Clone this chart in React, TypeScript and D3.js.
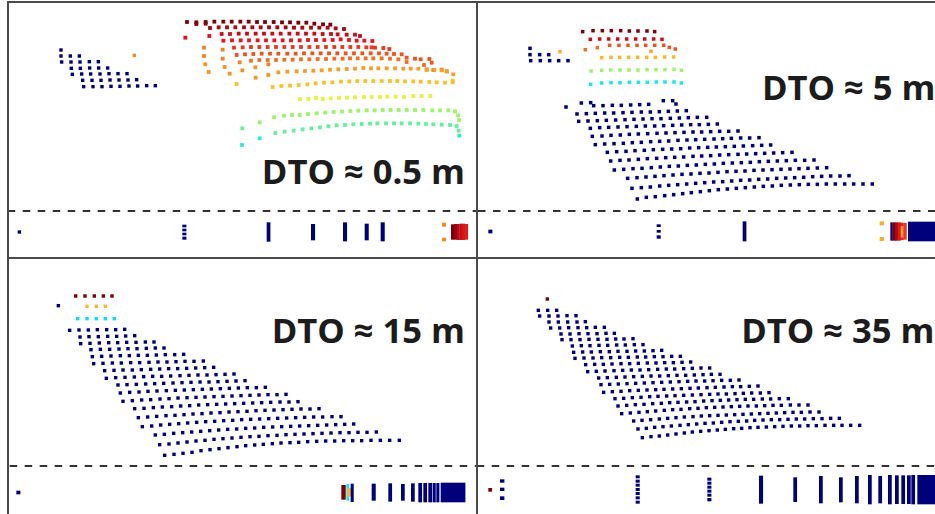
import React from 'react';
import { scaleLinear } from 'd3';

const width = 935;
const height = 514;

// scan rows: [jet value, xs, ys], in scene units (1/3 px)
type Row = [number, number[], number[]];
type Bar = [number, number, number, number, number];

const nearBlue: Row[] = [
  [0, [183], [150]],
  [0, [183, 211, 238], [168, 168, 168]],
  [0, [185, 213, 240, 268, 295], [186, 186, 186, 185, 185]],
  [0, [214, 241, 269, 296, 323], [205, 205, 204, 204, 204]],
  [0, [217, 245, 272, 300, 327, 354, 381], [223, 222, 222, 222, 221, 221, 221]],
  [0, [248, 276, 303, 330, 357, 384, 410], [241, 241, 241, 240, 240, 240, 239]],
  [0, [251, 279, 306, 333, 360, 387, 413, 440, 466], [260, 260, 260, 259, 259, 258, 258, 257, 257]],
  [0.76, [403], [166]],
];

const nearWarm: Row[] = [
  [1, [51, 79, 107, 133, 160, 185, 211, 236, 261, 285, 311, 336, 360, 385, 409, 433, 459, 481], [36, 37, 36, 35, 35, 35, 35, 35, 36, 36, 36, 37, 37, 38, 38, 41, 43, 44]],
  [0.98, [79, 107], [42, 41]],
  [0.96, [120, 146, 171, 196, 222, 247, 272, 297, 322, 347, 372, 397, 423, 448, 473, 497, 522], [54, 52, 52, 52, 52, 52, 52, 52, 52, 52, 53, 53, 53, 53, 53, 55, 57]],
  [0.92, [155, 180, 206, 231, 257, 282, 307, 332, 358, 383, 408, 433, 458, 483, 503, 530, 555, 570], [72, 72, 71, 71, 71, 71, 71, 71, 71, 71, 71, 71, 72, 72, 73, 74, 74, 78]],
  [0.89, [160, 186, 212, 237, 263, 288, 313, 338, 363, 389, 414, 438, 463, 488, 512, 537, 560, 583, 607], [92, 91, 91, 91, 91, 91, 91, 91, 91, 91, 90, 90, 90, 90, 88, 90, 92, 92, 93]],
  [0.9, [46, 118], [83, 78]],
  [0.85, [192, 218, 243, 268, 293, 318, 343, 368, 393, 418, 443, 468, 493, 517, 541, 565, 589, 605, 615, 640, 658], [113, 112, 111, 111, 111, 111, 111, 111, 111, 111, 111, 111, 111, 111, 111, 111, 112, 112, 113, 114, 117]],
  [0.82, [200, 225, 250, 275, 300, 325, 352, 377, 402, 427, 452, 477, 502, 527, 552, 577, 602, 627, 650, 672, 695, 710, 735, 752, 778, 785], [135, 133, 132, 131, 131, 131, 131, 131, 130, 130, 130, 130, 130, 130, 130, 130, 130, 130, 131, 132, 133, 143, 146, 148, 147, 158]],
  [0.79, [243, 268, 293, 318, 343, 368, 393, 418, 443, 468, 493, 518, 540, 563, 587, 610, 635, 660, 685, 710, 762, 770, 790, 815, 830], [152, 150, 150, 150, 149, 149, 148, 148, 147, 147, 146, 146, 145, 145, 145, 145, 145, 146, 148, 156, 165, 179, 180, 179, 184]],
  [0.77, [102, 102, 158, 158, 209, 295], [113, 138, 119, 146, 157, 163]],
  [0.75, [106, 116, 164, 179, 217, 256, 257, 295], [163, 186, 171, 191, 181, 172, 203, 195]],
  [0.74, [325, 352, 380, 405, 430, 455, 480, 505, 530, 555, 580, 603, 625, 650, 675, 700, 722, 745, 770, 793, 815, 830, 850], [187, 185, 184, 183, 182, 181, 179, 178, 177, 176, 174, 175, 175, 175, 175, 176, 176, 176, 178, 180, 181, 184, 193]],
  [0.7, [200, 848, 308, 334, 360, 386, 412, 437, 462, 487, 513, 538, 562, 586, 610, 635, 660, 682, 705, 730, 752, 778, 800, 825, 848], [222, 212, 231, 228, 227, 225, 223, 220, 218, 217, 215, 214, 213, 213, 213, 213, 213, 213, 214, 214, 215, 216, 217, 218, 217]],
  [0.62, [390, 415, 438, 458, 482, 507, 531, 555, 582, 605, 630, 652, 677, 702, 730, 755, 781], [267, 267, 264, 267, 265, 264, 263, 262, 261, 261, 261, 260, 260, 261, 258, 258, 258]],
  [0.53, [269, 312, 342, 366, 389, 414, 440, 466, 491, 516, 541, 565, 590, 614, 638, 662, 686, 710, 735, 760, 787, 810, 835, 855, 864, 867], [337, 322, 317, 315, 315, 312, 310, 308, 306, 305, 303, 302, 301, 301, 300, 300, 300, 300, 300, 300, 301, 301, 301, 304, 316, 330]],
  [0.46, [217, 316, 344, 371, 398, 424, 450, 475, 500, 525, 550, 575, 600, 622, 648, 672, 695, 720, 745, 768, 790, 815, 840, 860, 866], [355, 369, 365, 362, 358, 355, 352, 349, 346, 345, 343, 342, 341, 340, 340, 340, 340, 340, 341, 342, 343, 344, 345, 348, 362]],
  [0.39, [269, 216, 868], [385, 405, 377]],
];

const fiveMetre: Row[] = [
  [1, [314, 345, 373, 400, 428, 454, 480, 507, 530], [95, 92, 92, 92, 92, 93, 93, 93, 95]],
  [0.92, [337, 365, 392, 419, 446, 473, 500, 527, 552], [118, 117, 117, 117, 117, 117, 117, 117, 118]],
  [0.82, [395, 423, 450, 477, 503, 530, 557, 574, 592], [136, 136, 136, 136, 136, 136, 136, 142, 147]],
  [0.79, [322, 358], [149, 143]],
  [0.73, [519], [154]],
  [0.71, [371, 399, 425, 452, 479, 506, 532, 560, 587], [173, 172, 172, 172, 172, 172, 172, 171, 171]],
  [0.53, [339, 371, 398, 426, 453, 480, 507, 534, 561, 588, 610], [213, 211, 210, 210, 210, 210, 209, 209, 209, 208, 211]],
  [0.36, [338, 371, 399, 426, 454, 481, 508, 535, 561, 588, 610], [253, 249, 248, 248, 247, 247, 247, 246, 246, 246, 249]],
  [0.72, [246], [155]],
  [0, [156, 156, 185, 212, 158, 187, 215, 242, 270], [145, 164, 164, 164, 182, 182, 182, 182, 182]],
  [0, [264, 310, 338, 556, 584, 594], [321, 309, 308, 302, 302, 312]],
  [0, [347, 375, 403, 430, 458, 485, 512], [317, 317, 316, 316, 315, 314, 313]],
  [0, [297, 325, 352, 380, 407, 435, 462, 490, 517, 544, 571, 598, 625], [342, 341, 340, 339, 339, 338, 337, 336, 336, 335, 334, 333, 332]],
  [0, [302, 330, 358, 385, 413, 441, 468, 495, 522, 549, 577, 604, 631, 658, 686], [364, 363, 362, 361, 360, 359, 358, 357, 356, 356, 355, 354, 353, 352, 352]],
  [0, [337, 365, 392, 420, 447, 475, 502, 530, 557, 584, 611, 638, 664, 691, 718], [385, 383, 382, 381, 380, 379, 378, 378, 377, 376, 375, 374, 374, 373, 372]],
  [0, [343, 372, 399, 427, 454, 481, 509, 537, 564, 591, 618, 645, 671, 698, 725, 752, 780], [409, 408, 406, 405, 403, 402, 401, 400, 399, 398, 397, 396, 396, 395, 394, 394, 393]],
  [0, [352, 380, 408, 436, 463, 490, 518, 545, 572, 600, 627, 653, 680, 708, 734, 760, 788, 815, 843], [434, 432, 431, 430, 428, 427, 425, 424, 423, 421, 420, 419, 418, 417, 416, 415, 414, 414, 413]],
  [0, [388, 416, 444, 471, 499, 526, 554, 581, 608, 635, 662, 689, 715, 742, 769, 796, 824, 851, 878], [457, 455, 454, 452, 451, 449, 448, 447, 446, 444, 443, 442, 441, 440, 439, 438, 437, 436, 435]],
  [0, [398, 426, 453, 481, 508, 536, 563, 590, 617, 645, 671, 698, 725, 752, 780, 806, 833, 860, 887, 914, 942], [483, 481, 480, 478, 476, 475, 473, 472, 471, 469, 468, 467, 465, 464, 463, 462, 461, 460, 459, 458, 457]],
  [0, [409, 437, 465, 492, 520, 547, 574, 601, 628, 655, 682, 709, 736, 763, 790, 817, 844, 871, 898, 925, 952, 980, 1008], [510, 508, 506, 505, 503, 501, 499, 498, 496, 495, 493, 492, 490, 489, 488, 487, 485, 484, 483, 482, 481, 481, 480]],
  [0, [449, 477, 504, 531, 558, 585, 612, 639, 666, 693, 720, 747, 774, 801, 828, 855, 882, 909, 936, 963, 990, 1018, 1046], [535, 533, 531, 529, 527, 525, 523, 522, 520, 519, 517, 515, 514, 513, 511, 510, 509, 508, 507, 506, 505, 504, 503]],
  [0, [462, 490, 517, 545, 572, 599, 626, 653, 680, 707, 734, 761, 788, 815, 842, 869, 896, 923, 950, 977, 1004, 1031, 1058, 1086, 1113], [565, 563, 561, 558, 556, 554, 552, 550, 548, 546, 545, 543, 541, 540, 538, 537, 535, 534, 533, 532, 530, 529, 528, 528, 527]],
  [0, [478, 505, 532, 560, 587, 614, 640, 667, 694, 721, 748, 775, 802, 829, 856, 883, 910, 937, 964, 991, 1018, 1045, 1072, 1100, 1127, 1155, 1183], [597, 592, 590, 587, 584, 581, 578, 575, 572, 569, 567, 565, 563, 561, 559, 558, 556, 555, 554, 553, 553, 552, 552, 552, 552, 552, 552]],
];

const fifteenMetre: Row[] = [
  [1, [227, 255, 283, 310, 336], [114, 114, 114, 114, 114]],
  [0.71, [261, 289, 316], [145, 145, 145]],
  [0.34, [233, 261, 289, 316, 343], [182, 182, 182, 182, 182]],
  [0, [175], [143]],
  [0, [209, 237, 265, 292, 320, 347, 374], [217, 216, 216, 215, 215, 215, 214]],
  [0, [240, 267, 295, 323, 350, 377, 404], [237, 236, 236, 235, 235, 234, 233]],
  [0, [242, 270, 298, 326, 353, 380, 408, 436, 462], [257, 256, 255, 254, 254, 253, 253, 252, 252]],
  [0, [273, 301, 329, 357, 384, 411, 439, 466, 492], [275, 274, 274, 273, 272, 272, 271, 270, 270]],
  [0, [277, 305, 333, 361, 388, 415, 442, 469, 496, 524, 551], [296, 295, 294, 293, 293, 292, 292, 291, 290, 290, 289]],
  [0, [281, 309, 337, 364, 392, 419, 447, 474, 501, 528, 555, 582, 610], [317, 316, 315, 315, 314, 314, 313, 312, 312, 311, 310, 310, 309]],
  [0, [314, 342, 369, 397, 424, 452, 479, 506, 533, 560, 587, 614, 641], [338, 337, 336, 336, 335, 334, 333, 332, 332, 331, 330, 329, 328]],
  [0, [319, 347, 375, 403, 431, 458, 485, 512, 540, 567, 594, 621, 648, 675, 702], [361, 359, 358, 357, 356, 355, 355, 354, 353, 352, 351, 351, 350, 349, 348]],
  [0, [354, 381, 409, 437, 464, 491, 519, 546, 573, 600, 627, 654, 681, 708, 735], [381, 380, 379, 378, 377, 376, 375, 374, 373, 372, 372, 371, 370, 369, 368]],
  [0, [361, 389, 417, 444, 471, 499, 526, 553, 580, 607, 634, 661, 688, 715, 742, 769, 796], [405, 403, 402, 400, 399, 398, 397, 396, 395, 394, 393, 392, 391, 390, 389, 389, 388]],
  [0, [369, 397, 425, 452, 480, 507, 534, 561, 588, 615, 642, 669, 696, 723, 750, 777, 804, 831, 858], [430, 428, 426, 425, 423, 422, 420, 419, 418, 417, 416, 415, 414, 413, 412, 411, 410, 410, 409]],
  [0, [404, 432, 460, 487, 515, 542, 569, 596, 623, 650, 677, 704, 731, 758, 785, 812, 840, 867, 894], [452, 451, 449, 447, 446, 444, 443, 441, 440, 439, 438, 437, 436, 435, 434, 433, 432, 432, 431]],
  [0, [415, 443, 470, 498, 525, 552, 579, 606, 633, 660, 687, 714, 741, 768, 795, 822, 849, 876, 903, 930, 957], [479, 477, 475, 473, 472, 470, 468, 467, 465, 464, 462, 461, 460, 458, 457, 456, 455, 454, 453, 453, 452]],
  [0, [427, 455, 482, 509, 536, 563, 590, 617, 644, 671, 698, 725, 752, 779, 806, 833, 860, 887, 914, 941, 968, 996, 1023], [506, 504, 501, 499, 497, 495, 493, 491, 490, 488, 487, 485, 484, 483, 482, 481, 480, 479, 478, 477, 477, 476, 476]],
  [0, [466, 493, 521, 548, 575, 602, 629, 656, 683, 710, 737, 764, 791, 818, 845, 872, 899, 926, 953, 980, 1007, 1034, 1061], [531, 529, 526, 524, 522, 520, 518, 516, 514, 513, 511, 510, 508, 507, 506, 505, 504, 503, 502, 501, 500, 499, 498]],
  [0, [479, 507, 534, 561, 588, 615, 642, 669, 696, 723, 750, 777, 804, 831, 858, 885, 912, 939, 966, 993, 1020, 1047, 1074, 1101, 1129], [560, 558, 555, 552, 549, 547, 544, 542, 540, 538, 536, 535, 533, 532, 530, 529, 528, 527, 526, 525, 524, 524, 523, 523, 522]],
  [0, [494, 522, 549, 576, 603, 630, 657, 684, 711, 737, 764, 790, 817, 843, 870, 896, 923, 950, 977, 1004, 1031, 1058, 1085, 1113, 1141, 1169, 1198], [592, 589, 586, 583, 578, 575, 572, 569, 566, 563, 561, 559, 557, 555, 554, 553, 551, 550, 549, 549, 548, 548, 548, 547, 547, 547, 547]],
];

const thirtyFiveMetre: Row[] = [
  [1, [208], [123]],
  [0, [181, 209, 236], [157, 157, 157]],
  [0, [185, 213, 240, 267, 294], [174, 174, 174, 173, 173]],
  [0, [213, 241, 269, 297, 322], [192, 192, 192, 192, 191]],
  [0, [218, 245, 272, 300, 326, 352, 379], [210, 210, 209, 209, 209, 208, 208]],
  [0, [249, 276, 303, 330, 357, 384, 409], [228, 228, 227, 227, 227, 226, 226]],
  [0, [252, 279, 306, 333, 360, 387, 413, 438, 465], [245, 245, 245, 244, 244, 244, 243, 243, 242]],
  [0, [283, 310, 336, 363, 389, 416, 442, 469, 495], [264, 263, 263, 262, 262, 261, 261, 260, 260]],
  [0, [287, 314, 340, 367, 394, 420, 447, 473, 499, 525, 551], [283, 282, 282, 281, 281, 280, 280, 279, 279, 278, 277]],
  [0, [291, 318, 345, 371, 398, 425, 451, 478, 503, 529, 555, 581, 607], [301, 300, 300, 299, 299, 298, 298, 297, 297, 296, 296, 295, 295]],
  [0, [323, 350, 376, 402, 429, 455, 481, 508, 534, 560, 586, 612, 638], [320, 319, 319, 318, 317, 317, 316, 315, 315, 314, 314, 313, 312]],
  [0, [329, 355, 381, 408, 434, 460, 486, 512, 539, 565, 590, 617, 643, 669, 695], [341, 340, 339, 338, 337, 336, 336, 335, 334, 333, 333, 332, 331, 330, 330]],
  [0, [362, 388, 415, 441, 467, 493, 519, 545, 571, 597, 623, 649, 675, 700, 726], [360, 359, 358, 357, 356, 355, 354, 354, 353, 352, 352, 351, 350, 349, 349]],
  [0, [369, 395, 421, 447, 473, 499, 525, 551, 577, 603, 629, 654, 680, 705, 731, 757, 783], [380, 379, 378, 377, 376, 375, 374, 373, 372, 371, 370, 369, 369, 368, 367, 367, 366]],
  [0, [377, 403, 429, 455, 481, 507, 533, 558, 584, 610, 636, 661, 687, 712, 738, 763, 788, 814, 840], [403, 401, 400, 398, 397, 396, 395, 394, 393, 392, 391, 390, 389, 388, 387, 386, 386, 385, 384]],
  [0, [411, 437, 463, 489, 515, 540, 566, 591, 617, 643, 669, 695, 720, 745, 771, 796, 821, 847, 873], [422, 421, 419, 418, 416, 415, 414, 413, 412, 411, 410, 409, 408, 408, 407, 406, 405, 405, 404]],
  [0, [420, 446, 472, 498, 524, 550, 575, 600, 626, 651, 677, 702, 727, 752, 777, 802, 827, 853, 878, 904, 931], [444, 442, 440, 439, 437, 436, 434, 433, 432, 431, 429, 428, 427, 426, 425, 424, 424, 423, 423, 422, 422]],
  [0, [431, 457, 483, 508, 533, 559, 584, 609, 635, 660, 685, 710, 735, 760, 785, 810, 835, 860, 885, 910, 937, 963, 990], [467, 465, 463, 461, 459, 457, 455, 454, 452, 451, 449, 448, 447, 446, 445, 444, 444, 443, 442, 442, 441, 441, 441]],
  [0, [467, 492, 518, 544, 569, 594, 619, 645, 670, 695, 720, 745, 770, 795, 820, 845, 870, 895, 920, 945, 970, 996, 1023], [489, 487, 485, 483, 481, 479, 477, 476, 474, 473, 472, 471, 470, 469, 468, 467, 466, 465, 464, 463, 463, 462, 462]],
  [0, [480, 505, 530, 555, 580, 606, 631, 656, 681, 706, 731, 756, 781, 806, 830, 855, 880, 905, 930, 955, 980, 1006, 1032, 1058, 1084], [513, 511, 508, 506, 504, 502, 500, 498, 496, 495, 493, 491, 490, 489, 487, 486, 485, 485, 484, 483, 483, 482, 482, 481, 481]],
  [0, [493, 519, 544, 569, 594, 619, 643, 668, 693, 718, 742, 767, 791, 816, 840, 865, 890, 915, 940, 965, 990, 1015, 1041, 1067, 1092, 1118, 1145], [539, 536, 534, 531, 528, 525, 522, 520, 518, 516, 514, 512, 511, 509, 508, 507, 506, 505, 504, 504, 503, 503, 502, 502, 502, 502, 502]],
];

// range-image strips: [x0, x1, y0, y1, jet value]
const strip05: Bar[] = [
  [53, 62, 691, 701, 0],
  [547, 558, 674, 682, 0], [547, 558, 686, 694, 0], [547, 558, 698, 706, 0], [547, 558, 710, 719, 0],
  [800, 810, 667, 725, 0], [933, 944, 672, 721, 0], [1029, 1040, 667, 724, 0], [1094, 1105, 671, 721, 0], [1142, 1153, 667, 724, 0],
  [1326, 1337, 668, 680, 0.76], [1326, 1337, 713, 724, 0.76],
  [1353, 1362, 673, 719, 1], [1362, 1370, 672, 719, 0.97], [1370, 1378, 672, 720, 0.94], [1378, 1386, 671, 720, 0.92], [1386, 1394, 671, 720, 0.9], [1394, 1403, 672, 719, 0.88],
];

const strip5: Bar[] = [
  [31, 42, 689, 700, 0],
  [536, 547, 673, 681, 0], [536, 547, 690, 698, 0], [536, 547, 706, 716, 0],
  [794, 804, 664, 724, 0],
  [1205, 1217, 664, 676, 0.72], [1205, 1217, 711, 723, 0.72],
  [1237, 1243, 667, 722, 0.05], [1243, 1251, 667, 722, 1], [1251, 1259, 667, 722, 0.96], [1259, 1268, 667, 722, 0.89], [1268, 1276, 678, 712, 0.74], [1268, 1276, 668, 678, 0.87], [1268, 1276, 712, 720, 0.87], [1276, 1285, 669, 719, 0.85],
  [1290, 1371, 665, 724, 0],
];

const strip15: Bar[] = [
  [49, 60, 698, 709, 0],
  [1024, 1036, 681, 725, 1], [1039, 1046, 678, 728, 0.36], [1042, 1053, 690, 716, 0.71], [1052, 1060, 677, 732, 0.02],
  [1115, 1126, 677, 728, 0], [1165, 1175, 676, 731, 0], [1203, 1213, 678, 728, 0], [1233, 1243, 676, 731, 0], [1255, 1265, 675, 733, 0], [1270, 1280, 675, 733, 0], [1285, 1295, 675, 733, 0], [1298, 1306, 675, 733, 0], [1309, 1317, 675, 733, 0],
  [1322, 1395, 674, 733, 0],
];

const strip35: Bar[] = [
  [31, 41, 690, 701, 1],
  [66, 78, 664, 674, 0], [66, 78, 689, 699, 0], [66, 78, 715, 726, 0],
  [473, 484, 652, 661, 0], [473, 484, 665, 674, 0], [473, 484, 677, 686, 0], [473, 484, 690, 699, 0], [473, 484, 702, 711, 0], [473, 484, 715, 724, 0], [473, 484, 728, 737, 0],
  [688, 699, 659, 668, 0], [688, 699, 671, 680, 0], [688, 699, 683, 692, 0], [688, 699, 695, 704, 0], [688, 699, 707, 716, 0], [688, 699, 720, 730, 0],
  [843, 854, 653, 737, 0], [946, 956, 658, 732, 0], [1023, 1033, 654, 736, 0], [1083, 1093, 658, 733, 0], [1131, 1141, 654, 736, 0], [1170, 1180, 651, 739, 0], [1201, 1211, 654, 736, 0], [1230, 1240, 651, 739, 0], [1251, 1261, 652, 738, 0], [1270, 1280, 652, 738, 0], [1287, 1297, 652, 738, 0], [1300, 1310, 651, 739, 0],
  [1318, 1371, 651, 739, 0],
];

const labels = ['DTO ≈ 0.5 m', 'DTO ≈ 5 m', 'DTO ≈ 15 m', 'DTO ≈ 35 m'];

const jet = scaleLinear<string>()
  .domain([0, 0.11, 0.35, 0.5, 0.65, 0.89, 1])
  .range(['#05057c', '#0000ff', '#10e8f0', '#84f47c', '#fff030', '#e4141c', '#7a0008']);

const sceneX = (ox: number) => scaleLinear().domain([0, 3]).range([ox, ox + 1]);
const sceneY = (oy: number) => scaleLinear().domain([0, 3]).range([oy, oy + 1]);

const Dots = ({ rows, ox, oy, size }: { rows: Row[]; ox: number; oy: number; size: number }) => {
  const x = sceneX(ox);
  const y = sceneY(oy);
  return (
    <g>
      {rows.map(([v, xs, ys], i) =>
        xs.map((d, j) => (
          <rect
            key={i + '-' + j}
            x={x(d) - size / 2}
            y={y(ys[j]) - size / 2}
            width={size}
            height={size}
            fill={jet(v)}
          />
        ))
      )}
    </g>
  );
};

const Strip = ({ bars, ox, oy }: { bars: Bar[]; ox: number; oy: number }) => {
  const x = sceneX(ox);
  const y = sceneY(oy);
  return (
    <g>
      {bars.map(([x0, x1, y0, y1, v], i) => (
        <rect key={i} x={x(x0)} y={y(y0)} width={x(x1) - x(x0) + 0.4} height={y(y1) - y(y0)} fill={jet(v)} />
      ))}
    </g>
  );
};

const App = () => {
  const title = { fontFamily: '"Open Sans"', fontWeight: 700, fontSize: 34.6, fill: '#1c1c1c', textAnchor: 'end' as const };
  const dash = { stroke: '#333', strokeWidth: 1.8, strokeDasharray: '7.5 7.5' };
  return (
    <svg width={width} height={height} style={{ position: 'fixed', left: 0, top: 0, background: '#fff' }}>
      <defs>
        <filter id="soft" filterUnits="userSpaceOnUse" x="0" y="0" width={width} height={height}>
          <feGaussianBlur stdDeviation="0.4" />
        </filter>
        <filter id="softer" filterUnits="userSpaceOnUse" x="0" y="0" width={width} height={height}>
          <feGaussianBlur stdDeviation="0.7" />
        </filter>
      </defs>
      <g filter="url(#soft)">
        <Dots rows={nearBlue} ox={0} oy={0} size={3.4} />
        <Dots rows={nearWarm} ox={170} oy={10} size={3.8} />
        <Dots rows={fiveMetre} ox={478} oy={0} size={3.5} />
        <Dots rows={fifteenMetre} ox={0} oy={258} size={3.4} />
        <Dots rows={thirtyFiveMetre} ox={478} oy={258} size={3.4} />
      </g>
      <g filter="url(#softer)">
        <Strip bars={strip05} ox={0} oy={0} />
        <Strip bars={strip5} ox={478} oy={0} />
        <Strip bars={strip15} ox={0} oy={258} />
        <Strip bars={strip35} ox={478} oy={258} />
      </g>

      <line x1={7.7} x2={477} y1={211} y2={211} {...dash} />
      <line x1={478} x2={935} y1={211} y2={211} {...dash} />
      <line x1={9.7} x2={477} y1={466} y2={466} {...dash} />
      <line x1={476.7} x2={935} y1={466} y2={466} {...dash} />
      <line x1={7} x2={935} y1={2} y2={2} stroke="#4a4a4a" strokeWidth={2} />
      <line x1={7} x2={935} y1={258} y2={258} stroke="#4a4a4a" strokeWidth={2} />
      <line x1={8} x2={8} y1={1} y2={514} stroke="#4a4a4a" strokeWidth={2} />
      <line x1={477} x2={477} y1={1} y2={514} stroke="#4a4a4a" strokeWidth={2} />

      <text x={465} y={183.5} style={title}>{labels[0]}</text>
      <text x={935.5} y={100} style={title}>{labels[1]}</text>
      <text x={465} y={343} style={title}>{labels[2]}</text>
      <text x={934.5} y={343} style={title}>{labels[3]}</text>
    </svg>
  );
};

export default App;
